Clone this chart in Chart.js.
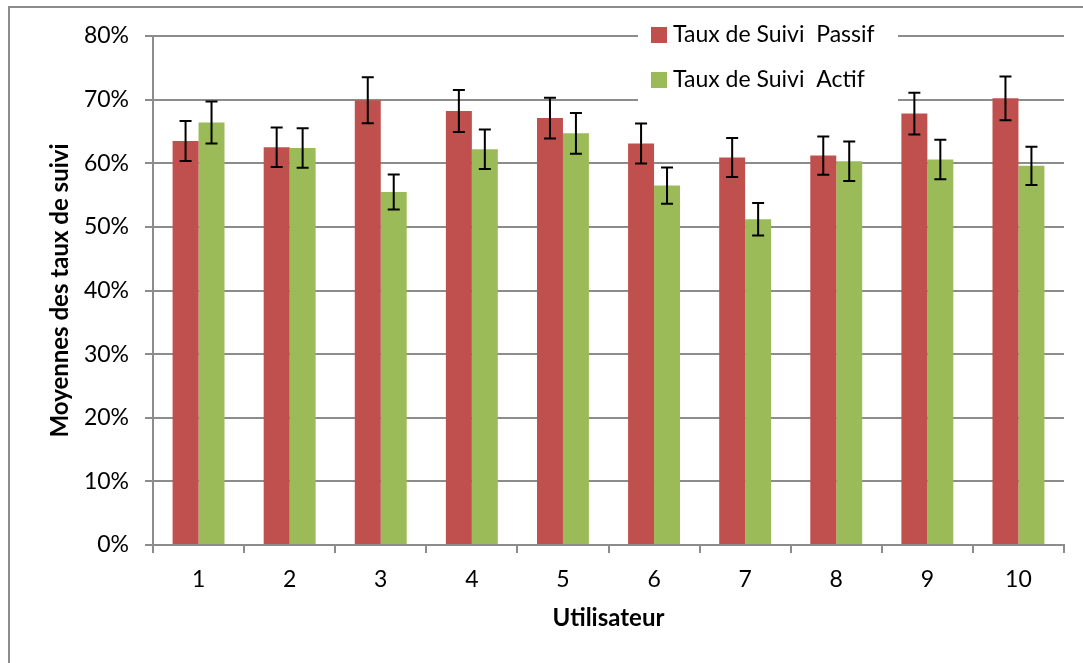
<!DOCTYPE html>
<html>
<head>
<meta charset="utf-8">
<script src="https://cdn.jsdelivr.net/npm/chart.js@4.4.0/dist/chart.umd.min.js"></script>
<style>
  html, body { margin: 0; padding: 0; background: #fff; }
  #wrap { width: 1083px; height: 663px; position: relative; }
</style>
</head>
<body>
<div id="wrap"><canvas id="suiviChart"></canvas></div>
<script>
// Data
const users = ['1', '2', '3', '4', '5', '6', '7', '8', '9', '10'];
const passifMeans = [63.5, 62.5, 69.9, 68.2, 67.1, 63.1, 60.9, 61.2, 67.8, 70.2];
const passifErrors = [3.15, 3.1, 3.6, 3.3, 3.2, 3.15, 3.05, 3.0, 3.3, 3.45];
const actifMeans = [66.4, 62.4, 55.5, 62.2, 64.7, 56.5, 51.2, 60.3, 60.6, 59.6];
const actifErrors = [3.3, 3.1, 2.75, 3.1, 3.2, 2.85, 2.55, 3.1, 3.1, 3.0];
const yTicks = [0, 10, 20, 30, 40, 50, 60, 70, 80];

const fontFamily = 'Lato, "Open Sans", sans-serif';
const gridGray = '#8c8c8c';

// Error bars drawn from the bar elements and the y scale
const errorBars = {
    id: 'errorBars',
    afterDatasetsDraw(chart) {
        const ctx = chart.ctx;
        const yScale = chart.scales.y;
        ctx.save();
        ctx.strokeStyle = '#000';
        ctx.lineWidth = 2;
        chart.data.datasets.forEach((ds, i) => {
            const meta = chart.getDatasetMeta(i);
            meta.data.forEach((bar, j) => {
                const v = ds.data[j];
                const e = ds.errors[j];
                const yHi = yScale.getPixelForValue(v + e);
                const yLo = yScale.getPixelForValue(v - e);
                ctx.beginPath();
                ctx.moveTo(bar.x, yHi);
                ctx.lineTo(bar.x, yLo);
                ctx.moveTo(bar.x - 6, yHi);
                ctx.lineTo(bar.x + 6, yHi);
                ctx.moveTo(bar.x - 6, yLo);
                ctx.lineTo(bar.x + 6, yLo);
                ctx.stroke();
            });
        });
        ctx.restore();
    }
};

// Legend box sitting over the top-right of the plot, plus outer frame
const boxLegend = {
    id: 'boxLegend',
    afterDraw(chart) {
        const ctx = chart.ctx;
        ctx.save();
        ctx.fillStyle = '#fff';
        ctx.fillRect(638, 12, 260, 94);
        ctx.font = '23px ' + fontFamily;
        ctx.textBaseline = 'middle';
        chart.data.datasets.forEach((ds, i) => {
            const y = 35 + i * 45;
            ctx.fillStyle = ds.backgroundColor;
            ctx.fillRect(651, y - 8, 16, 16);
            ctx.fillStyle = '#000';
            ctx.fillText(ds.label, 673, y);
        });
        ctx.strokeStyle = '#8c8c8c';
        ctx.lineWidth = 2;
        ctx.strokeRect(9, 7, 1090, 670);
        ctx.restore();
    }
};

const ctx = document.getElementById('suiviChart').getContext('2d');
const suiviChart = new Chart(ctx, {
    type: 'bar',
    data: {
        labels: users,
        datasets: [{
            label: 'Taux de Suivi  Passif',
            data: passifMeans,
            errors: passifErrors,
            backgroundColor: '#C0504D'
        }, {
            label: 'Taux de Suivi  Actif',
            data: actifMeans,
            errors: actifErrors,
            backgroundColor: '#9BBB59'
        }]
    },
    options: {
        responsive: true,
        maintainAspectRatio: false,
        animation: false,
        categoryPercentage: 0.57,
        barPercentage: 1.0,
        layout: {
            padding: { top: 36, right: 19, bottom: 0, left: 0 }
        },
        plugins: {
            legend: { display: false },
            tooltip: { enabled: false }
        },
        scales: {
            x: {
                grid: {
                    drawOnChartArea: false,
                    drawTicks: true,
                    tickLength: 8,
                    color: gridGray,
                    lineWidth: 2
                },
                border: { color: gridGray, width: 2 },
                ticks: {
                    color: '#000',
                    padding: 13,
                    font: { size: 23, family: fontFamily }
                },
                title: {
                    display: true,
                    text: 'Utilisateur',
                    color: '#000',
                    padding: { top: 0, bottom: 30 },
                    font: { size: 24, weight: 'bold', family: fontFamily }
                },
                afterFit(scale) { scale.height = 118; }
            },
            y: {
                min: 0,
                max: 80,
                afterBuildTicks(scale) {
                    scale.ticks = yTicks.map(v => ({ value: v }));
                },
                grid: {
                    color: gridGray,
                    lineWidth: 2,
                    tickLength: 8
                },
                border: { color: gridGray, width: 2 },
                ticks: {
                    color: '#000',
                    padding: 16,
                    font: { size: 23, family: fontFamily },
                    callback: v => v + '%'
                },
                title: {
                    display: true,
                    text: 'Moyennes des taux de suivi',
                    color: '#000',
                    padding: { top: 46, bottom: 0 },
                    font: { size: 24, weight: 'bold', family: fontFamily }
                },
                afterFit(scale) { scale.width = 153; }
            }
        }
    },
    plugins: [errorBars, boxLegend]
});
</script>
</body>
</html>
